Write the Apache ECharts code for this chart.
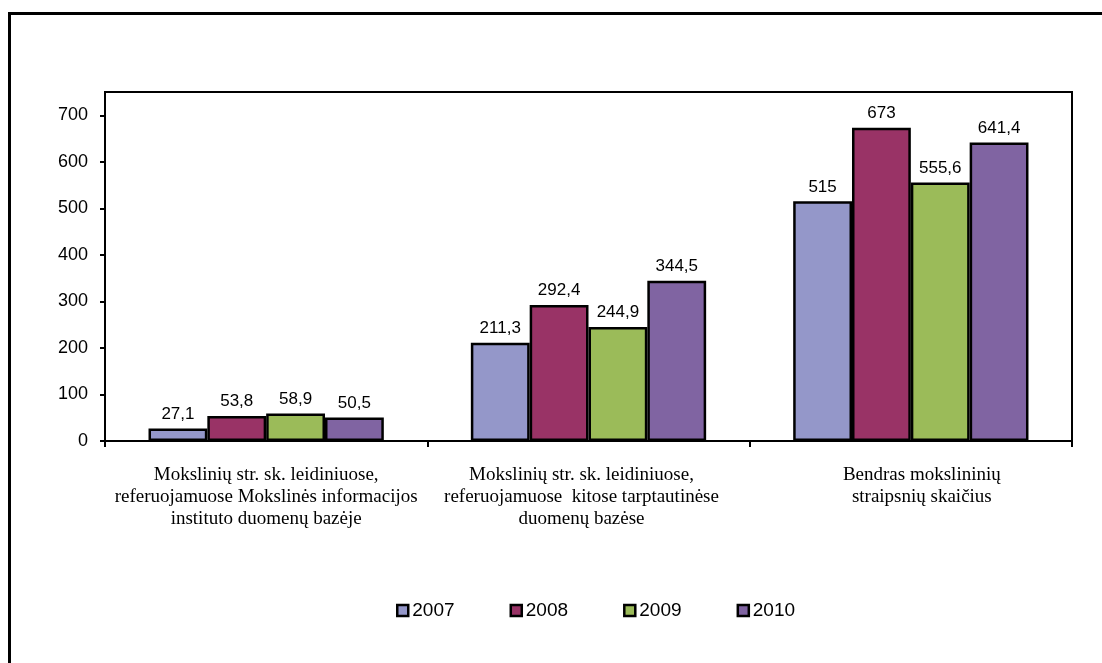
<!DOCTYPE html>
<html>
<head>
<meta charset="utf-8">
<script src="https://cdn.jsdelivr.net/npm/echarts@6/dist/echarts.min.js"></script>
<style>
html, body { margin: 0; padding: 0; background: #fff; }
#main { width: 1102px; height: 663px; }
</style>
</head>
<body>
<div id="main"></div>
<script>
// kategorijos ir metai
var categories = [
	'Mokslinių str. sk. leidiniuose,\nreferuojamuose Mokslinės informacijos\ninstituto duomenų bazėje',
	'Mokslinių str. sk. leidiniuose,\nreferuojamuose  kitose tarptautinėse\nduomenų bazėse',
	'Bendras mokslininių\nstraipsnių skaičius'
];
var years = ['2007', '2008', '2009', '2010'];
var values2007 = [27.1, 211.3, 515];
var values2008 = [53.8, 292.4, 673];
var values2009 = [58.9, 244.9, 555.6];
var values2010 = [50.5, 344.5, 641.4];
var colors = ['#9497c9', '#993366', '#9bbb59', '#8064a2'];

var allValues = [values2007, values2008, values2009, values2010];
// kiek paslinkti kategoriju uzrasus (kaip originale)
var labelPads = [[0, 0, 0, 0], [0, 14, 0, 0], [0, 0, 0, 22]];

var myChart = echarts.init(document.getElementById('main'));

var series = [];
for (var i = 0; i < years.length; i++)
{
	series.push({
		name: years[i],
		type: 'bar',
		data: allValues[i],
		barGap: '0%',
		barCategoryGap: '27%',
		itemStyle: { color: colors[i], borderColor: '#000', borderWidth: 2.5 },
		label: {
			show: true,
			position: 'top',
			distance: 6,
			color: '#000',
			fontFamily: 'Liberation Sans',
			fontSize: 17,
			formatter: function (p) { return String(p.value).replace('.', ','); }
		}
	});
}

var catData = [];
for (var j = 0; j < categories.length; j++)
{
	catData.push({ value: categories[j], textStyle: { padding: labelPads[j] } });
}

var option = {
	animation: false,
	backgroundColor: '#fff',
	color: colors,
	grid: {
		left: 105, right: 30, top: 92, bottom: 222,
		show: true, borderColor: '#000', borderWidth: 2
	},
	legend: {
		data: years,
		top: 596,
		left: 391,
		itemWidth: 11,
		itemHeight: 11,
		itemGap: 55,
		icon: 'rect',
		itemStyle: { borderColor: '#000', borderWidth: 2.5 },
		textStyle: { color: '#000', fontFamily: 'Liberation Sans', fontSize: 19, padding: [0, 0, 0, -1] }
	},
	xAxis: {
		type: 'category',
		data: catData,
		axisLine: { lineStyle: { color: '#000', width: 2 } },
		axisTick: { show: true, length: 6, lineStyle: { color: '#000', width: 2 } },
		axisLabel: {
			interval: 0,
			margin: 23,
			color: '#000',
			fontFamily: 'Liberation Serif',
			fontSize: 19,
			lineHeight: 22
		}
	},
	yAxis: {
		type: 'value',
		min: 0,
		max: 750,
		interval: 100,
		splitLine: { show: false },
		axisLine: { show: true, lineStyle: { color: '#000', width: 2 } },
		axisTick: { show: true, length: 5, lineStyle: { color: '#000', width: 2 } },
		axisLabel: {
			color: '#000',
			fontFamily: 'Liberation Sans',
			fontSize: 18,
			margin: 17,
			showMaxLabel: false,
			formatter: function (v) { return v % 100 === 0 ? String(v) : ''; }
		}
	},
	graphic: [{
		type: 'rect',
		left: 7, top: 11,
		shape: { width: 1200, height: 700 },
		style: { fill: 'none', stroke: '#000', lineWidth: 3 },
		silent: true
	}],
	series: series
};

myChart.setOption(option);
</script>
</body>
</html>
